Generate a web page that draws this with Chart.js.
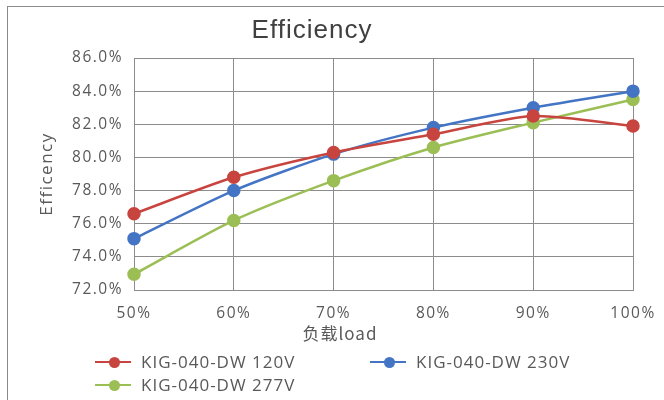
<!DOCTYPE html>
<html>
<head>
<meta charset="utf-8">
<script src="https://cdn.jsdelivr.net/npm/chart.js@4.4.1/dist/chart.umd.min.js"></script>
<style>
  html,body{margin:0;padding:0;background:#fff;}
  #wrap{position:relative;width:664px;height:400px;overflow:hidden;}
  #frame{position:absolute;left:7px;top:6px;width:700px;height:420px;border:1.5px solid #8a8a8a;box-sizing:border-box;}
  #chart{position:absolute;left:0;top:0;}
  #title{position:absolute;left:192px;width:240px;top:14px;text-align:center;letter-spacing:1px;
    font:26px "Liberation Sans",Arial,sans-serif;color:#404040;}
  #xtitle{position:absolute;left:260px;width:160px;top:320px;text-align:center;letter-spacing:1px;
    font:17px "Noto Sans CJK SC",sans-serif;color:#595959;}
  .lg{position:absolute;font:17px "Open Sans","Noto Sans",sans-serif;letter-spacing:1px;color:#595959;white-space:nowrap;}
  .lg i{display:inline-block;position:relative;width:36px;height:2px;vertical-align:middle;margin-right:10px;top:-1px;}
  .lg i b{position:absolute;left:14px;top:-4.5px;width:11px;height:11px;border-radius:50%;}
</style>
</head>
<body>
<div id="wrap">
  <div id="frame"></div>
  <canvas id="chart" width="664" height="400"></canvas>
  <div id="title">Efficiency</div>
  <div id="xtitle">负载load</div>
  <div id="legend"></div>
</div>
<script>
/* ── DATA ── */
const loads = ['50%','60%','70%','80%','90%','100%'];
const seriesNames = ['KIG-040-DW 120V','KIG-040-DW 230V','KIG-040-DW 277V'];
const eff120 = [76.6, 78.8, 80.3, 81.4, 82.5, 81.9];
const eff230 = [75.1, 78.0, 80.2, 81.8, 83.0, 84.0];
const eff277 = [72.95, 76.2, 78.6, 80.6, 82.1, 83.5];
const yMin = 72, yMax = 86, yStep = 2;

const colors = ['#C8443F','#4474C4','#9BBE55'];
const allData = [eff120, eff230, eff277];

/* ── LEGEND (html) ── */
const legendPos = [[95,350],[370,350],[95,373]];
const $lg = document.getElementById('legend');
seriesNames.forEach((n,i)=>{
  const d = document.createElement('div');
  d.className='lg';
  d.style.left = legendPos[i][0]+'px';
  d.style.top = legendPos[i][1]+'px';
  d.innerHTML = '<i style="background:'+colors[i]+'"><b style="background:'+colors[i]+'"></b></i>'+n;
  $lg.appendChild(d);
});

/* ── CHART ── */
// wider text like the original, canvas letter spacing
const spacing = {
  id:'spacing',
  beforeLayout(c){ c.ctx.letterSpacing='1.5px'; },
  beforeDraw(c){ c.ctx.letterSpacing='1.5px'; }
};
const gridCol = '#8c8c8c';
const tickFont = {family:'"Open Sans","Noto Sans",sans-serif',size:15.5};
new Chart(document.getElementById('chart'),{
  type:'line',
  data:{
    labels:loads,
    datasets:allData.map((d,i)=>({
      label:seriesNames[i],
      data:d,
      borderColor:colors[i], backgroundColor:colors[i],
      pointBackgroundColor:colors[i], pointBorderColor:colors[i],
      pointRadius:5.5, borderWidth:2.5, tension:.25, fill:false
    }))
  },
  options:{
    responsive:false, animation:false,
    layout:{padding:{top:58,right:31,bottom:80,left:20}},
    plugins:{legend:{display:false},title:{display:false},tooltip:{enabled:false}},
    scales:{
      x:{
        offset:false,
        grid:{color:gridCol,lineWidth:1,drawTicks:false},
        border:{color:gridCol},
        ticks:{padding:14,color:'#595959',font:tickFont},
        afterFit:s=>{s.height=30; s.paddingRight=0; s.paddingLeft=0;}
      },
      y:{
        min:yMin, max:yMax,
        grid:{color:gridCol,lineWidth:1,drawTicks:false},
        border:{color:gridCol},
        ticks:{stepSize:yStep,padding:11,color:'#595959',font:tickFont,
          callback:v=>v.toFixed(1)+'%'},
        title:{display:true,text:'Efficency',color:'#595959',padding:{top:17,bottom:0},
          font:{family:'"Open Sans","Noto Sans",sans-serif',size:17}},
        afterFit:s=>{s.width=114;}
      }
    }
  },
  plugins:[spacing]
});
</script>
</body>
</html>
